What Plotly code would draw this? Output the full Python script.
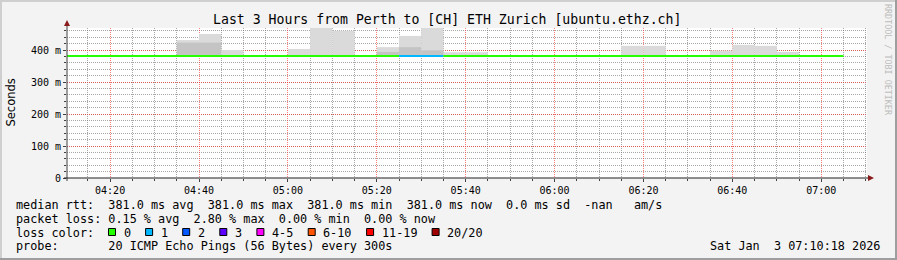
import plotly.graph_objects as go
import pandas as pd

# ---------------- data ----------------
DAY = "2026-01-03 "
title_text = "Last 3 Hours from Perth to [CH] ETH Zurich [ubuntu.ethz.ch]"
x_start = "2026-01-03 04:10:18"
x_end = "2026-01-03 07:10:18"

slots = ["04:10", "04:15", "04:20", "04:25", "04:30", "04:35", "04:40", "04:45", "04:50", "04:55",
         "05:00", "05:05", "05:10", "05:15", "05:20", "05:25", "05:30", "05:35", "05:40", "05:45",
         "05:50", "05:55", "06:00", "06:05", "06:10", "06:15", "06:20", "06:25", "06:30", "06:35",
         "06:40", "06:45", "06:50", "06:55", "07:00"]
median_ms = [381.0, 381.0, 381.0, 381.0, 381.0, 381.0, 381.0, 381.0, 381.0, 381.0,
             381.0, 381.0, 381.0, 381.0, 381.0, 381.0, 381.0, 381.0, 381.0, 381.0,
             381.0, 381.0, 381.0, 381.0, 381.0, 381.0, 381.0, 381.0, 381.0, 381.0,
             381.0, 381.0, 381.0, 381.0, 381.0]
loss_count = [0, 0, 0, 0, 0, 0, 0, 0, 0, 0,
              0, 0, 0, 0, 0, 1, 1, 0, 0, 0,
              0, 0, 0, 0, 0, 0, 0, 0, 0, 0,
              0, 0, 0, 0, 0]

# smoke (spread of the 20 pings) for slots that show it
smoke_slots = ["04:35", "04:40", "04:45", "05:00", "05:05", "05:10", "05:20", "05:25", "05:30",
               "05:35", "05:40", "06:15", "06:20", "06:35", "06:40", "06:45", "06:50"]
smoke_min = [379, 379, 379, 379, 379, 379, 379, 379, 379, 379, 379, 379, 379, 379, 379, 379, 379]
smoke_max = [431, 450, 400, 403, 480, 460, 409, 444, 480, 393, 393, 413, 413, 398, 416, 413, 394]
smoke_dense = [423, 423, None, None, None, None, 394, 409, 399, None, None, None, None, None, None, None, None]

y_ticks = [0, 100, 200, 300, 400]
y_tick_labels = ["0", "100 m", "200 m", "300 m", "400 m"]

loss_labels = ["0", "1", "2", "3", "4-5", "6-10", "11-19", "20/20"]
loss_colors = ["#26ff00", "#00b8ff", "#0059ff", "#5e00ff", "#ff00ff", "#ff5500", "#ff0000", "#a10000"]
loss_lower = [0, 1, 2, 3, 4, 6, 11, 20]

rtt_line = "median rtt:  381.0 ms avg  381.0 ms max  381.0 ms min  381.0 ms now  0.0 ms sd  -nan   am/s"
loss_line = "packet loss: 0.15 % avg  2.80 % max  0.00 % min  0.00 % now"
probe_line = "probe:       20 ICMP Echo Pings (56 Bytes) every 300s"
stamp_text = "Sat Jan  3 07:10:18 2026"
credit_text = "RRDTOOL / TOBI OETIKER"

# ---------------- geometry helpers ----------------
W, H = 897, 260
PL, PR, PT, PB = 67, 867, 28, 178


def px(x):
    return (x - PL) / (PR - PL)


def py(y):
    return (PB - y) / (PB - PT)


def nb(s):
    return s.replace(" ", "\u00a0")


MONO = "DejaVu Sans Mono"
LEG = 11.8

fig = go.Figure()

step = pd.Timedelta(minutes=5)

# smoke bars
centers = [pd.Timestamp(DAY + s) + step / 2 for s in smoke_slots]
fig.add_trace(go.Bar(
    x=centers, y=[hi - lo for hi, lo in zip(smoke_max, smoke_min)], base=smoke_min,
    width=[300000] * len(centers), marker=dict(color="#dadada", line=dict(width=0)),
    hoverinfo="skip", showlegend=False))
dc = [c for c, d in zip(centers, smoke_dense) if d is not None]
dlo = [lo for lo, d in zip(smoke_min, smoke_dense) if d is not None]
dhi = [d for d in smoke_dense if d is not None]
fig.add_trace(go.Bar(
    x=dc, y=[h - l for h, l in zip(dhi, dlo)], base=dlo,
    width=[300000] * len(dc), marker=dict(color="#c4c4c4", line=dict(width=0)),
    hoverinfo="skip", showlegend=False))


def loss_idx(c):
    k = 0
    for i, lo in enumerate(loss_lower):
        if c >= lo:
            k = i
    return k


ts = [pd.Timestamp(DAY + s) for s in slots]
n = len(ts)
i = 0
while i < n:
    j = i
    while j + 1 < n and loss_idx(loss_count[j + 1]) == loss_idx(loss_count[i]):
        j += 1
    xs = ts[i:j + 1] + [ts[j] + step]
    ys = median_ms[i:j + 1] + [median_ms[j]]
    fig.add_trace(go.Scatter(x=xs, y=ys, mode="lines",
                             line=dict(color=loss_colors[loss_idx(loss_count[i])], width=2, shape="hv"),
                             hoverinfo="skip", showlegend=False))
    i = j + 1

shapes = []
annotations = []

# frame
shapes += [
    dict(type="rect", xref="paper", yref="paper", x0=px(0), x1=px(W), y0=py(0), y1=py(2), fillcolor="#cfcfcf", line=dict(width=0), layer="below"),
    dict(type="rect", xref="paper", yref="paper", x0=px(0), x1=px(2), y0=py(0), y1=py(H), fillcolor="#cfcfcf", line=dict(width=0), layer="below"),
    dict(type="rect", xref="paper", yref="paper", x0=px(0), x1=px(W), y0=py(H - 2), y1=py(H), fillcolor="#9e9e9e", line=dict(width=0), layer="below"),
    dict(type="rect", xref="paper", yref="paper", x0=px(W - 2), x1=px(W), y0=py(0), y1=py(H), fillcolor="#9e9e9e", line=dict(width=0), layer="below"),
]
# axes lines and arrows
shapes += [
    dict(type="line", xref="paper", yref="paper", x0=px(PL), x1=px(PL), y0=py(PB + 3), y1=py(24), line=dict(color="#404040", width=1)),
    dict(type="line", xref="paper", yref="paper", x0=px(PL - 3), x1=px(869), y0=py(PB), y1=py(PB), line=dict(color="#202020", width=1)),
    dict(type="path", xref="paper", yref="paper",
         path=f"M {px(64)} {py(26)} L {px(70)} {py(26)} L {px(67)} {py(20)} Z", fillcolor="#8b1a1a", line=dict(width=0)),
    dict(type="path", xref="paper", yref="paper",
         path=f"M {px(868)} {py(175)} L {px(868)} {py(181)} L {px(874)} {py(178)} Z", fillcolor="#8b1a1a", line=dict(width=0)),
]


def ann(text, x, y, size, xanchor="left", family=MONO, color="#000000", angle=0, yanchor="middle"):
    annotations.append(dict(text=text, x=px(x), y=py(y), xref="paper", yref="paper", showarrow=False,
                            xanchor=xanchor, yanchor=yanchor, borderpad=0, textangle=angle,
                            font=dict(family=family, size=size, color=color)))


ann(nb(title_text), 447, 19.5, 13.2, xanchor="center")
ann("Seconds", 10.5, 103, 11.5, xanchor="center", family="DejaVu Sans", angle=-90)
ann(nb(credit_text), 888, 60, 8.4, xanchor="center", color="#bdbdbd", angle=90)

ann(nb(rtt_line), 15, 204.5, LEG)
ann(nb(loss_line), 15, 218.5, LEG)
ann(nb("loss color:"), 15, 232.5, LEG)
ann(nb(probe_line), 15, 246.5, LEG)
ann(nb(stamp_text), 881, 246.5, LEG, xanchor="right")

# loss colour legend boxes
b = 108.5
for lab, col in zip(loss_labels, loss_colors):
    shapes.append(dict(type="rect", xref="paper", yref="paper", x0=px(b), x1=px(b + 7), y0=py(228.5), y1=py(235.5),
                       fillcolor=col, line=dict(color="#000000", width=1)))
    ann(nb(lab), b + 14, 232.5, LEG)
    b = b + 14 + len(lab) * 7.1 + 16

GRID_MAJ = "rgba(255,40,40,0.6)"
GRID_MIN = "rgba(110,110,110,0.6)"

fig.update_layout(
    width=W, height=H, autosize=False,
    margin=dict(l=PL, r=W - PR, t=PT, b=H - PB, pad=0),
    paper_bgcolor="#f3f3f3", plot_bgcolor="#ffffff",
    barmode="overlay", showlegend=False,
    shapes=shapes, annotations=annotations,
    xaxis=dict(type="date", range=[x_start, x_end], tickformat="%H:%M",
               tick0="2026-01-03 04:20:00", dtick=1200000,
               showgrid=True, gridcolor=GRID_MAJ, griddash="1px,1px", gridwidth=1,
               minor=dict(dtick=300000, tick0="2026-01-03 04:20:00", showgrid=True, gridcolor=GRID_MIN,
                          griddash="1px,1px", gridwidth=1, ticks="outside", ticklen=2, tickcolor="#404040"),
               ticks="outside", ticklen=3, tickcolor="#404040", showline=False, zeroline=False,
               tickfont=dict(family=MONO, size=10, color="#000000"), fixedrange=True),
    yaxis=dict(range=[0, 468.75], tickvals=y_ticks, ticktext=y_tick_labels,
               showgrid=True, gridcolor=GRID_MAJ, griddash="1px,1px", gridwidth=1,
               minor=dict(dtick=20, tick0=0, showgrid=True, gridcolor=GRID_MIN,
                          griddash="1px,1px", gridwidth=1, ticks="outside", ticklen=2, tickcolor="#404040"),
               ticks="outside", ticklen=3, tickcolor="#404040", showline=False, zeroline=False,
               tickfont=dict(family=MONO, size=10, color="#000000"), fixedrange=True),
)

fig.write_html("out.html")
